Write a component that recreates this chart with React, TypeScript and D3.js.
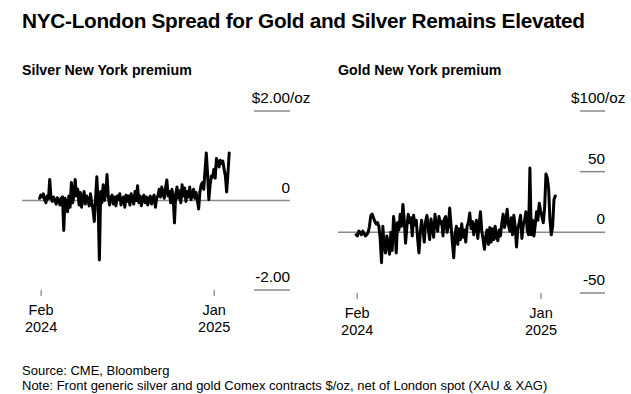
import React from 'react';
import * as d3 from 'd3';

// Silver: NY minus London spot, $/oz (evenly spaced obs)
const silverStart = '2024-01-29';
const silverEnd = '2025-01-30';
const silverValues = [
  0.05, 0.12, 0.08, 0.15, 0.02, -0.05, 0.10, 0.04, 0.47, 0.05,
  -0.02, 0.08, 0.00, -0.08, 0.06, 0.02, -0.10, 0.05, 0.08, -0.67,
  0.05, -0.05, -0.25, 0.10, -0.15, 0.40, -0.05, 0.12, 0.47, 0.10,
  0.25, -0.10, 0.18, -0.15, 0.05, 0.20, -0.08, 0.10, 0.02, -0.12,
  0.15, -0.05, -0.20, -0.47, 0.05, 0.53, -0.10, -1.33, 0.20, -0.05,
  0.35, 0.00, 0.15, 0.58, 0.10, -0.10, 0.05, 0.12, -0.08, 0.08,
  -0.12, 0.10, 0.02, 0.15, -0.10, 0.05, 0.08, -0.15, 0.12, -0.02,
  0.10, -0.10, 0.15, 0.05, -0.08, 0.20, 0.00, 0.33, -0.05, 0.10,
  -0.12, 0.05, 0.12, -0.05, 0.08, -0.10, 0.03, 0.10, -0.08, 0.05,
  0.12, -0.15, 0.05, 0.10, 0.25, 0.08, 0.30, 0.15, 0.05, 0.28,
  0.46, 0.10, 0.20, -0.05, 0.25, 0.05, -0.50, 0.15, 0.30, 0.05,
  0.22, -0.05, 0.35, 0.10, 0.28, -0.02, 0.20, 0.08, 0.30, 0.02,
  0.15, 0.25, 0.05, 0.18, 0.00, -0.19, 0.20, 0.35, 0.40, 0.25,
  0.67, 1.06, 0.60, 0.02, 0.35, 0.55, 0.52, 0.70, 0.50, 0.94,
  0.85, 0.75, 0.90, 0.83, 0.88, 0.70, 0.55, 0.19, 0.60, 1.06,
];

// Gold: NY minus London spot, $/oz
const goldStart = '2024-01-30';
const goldEnd = '2025-01-27';
const goldValues = [
  -2, -3, 1, 0, -2, 1, -1, -3, -2, 0,
  5, 14, 15, 12, 9, 7, 8, 5, -5, -25,
  5, -12, -17, -3, -10, -18, 0, -15, 13, 4,
  -17, 8, 2, 15, 5, 23, 10, -9, 5, 15,
  8, 12, -3, 14, 6, 10, -5, -17, 0, 10,
  2, -8, 9, 14, 3, -6, 11, 4, -4, 15,
  6, 1, 13, 7, 9, -3, 11, 13, 0, 5,
  20, 6, -8, -21, -2, 5, -10, 3, -6, 7,
  -4, 2, -8, 5, 8, 16, 3, 9, -2, 5,
  10, -5, 6, 17, 1, -6, -14, -3, 2, -10,
  4, -8, 3, -6, 5, -4, -7, 2, -3, 8,
  15, 4, 9, 19, 6, 1, 12, -2, 14, 4,
  -12, 3, 8, 14, -5, 6, 10, 17, 2, -2,
  53, -2, 10, -3, 6, 17, 10, 24, 18, 13,
  8, 20, 48, 45, 36, 10, -2, 5, 27, 30,
];

const silverTicks = [2, 0, -2];
const silverTickLabels = ['$2.00', '0', '-2.00'];
const goldTicks = [100, 50, 0, -50];
const goldTickLabels = ['$100', '50', '0', '-50'];
const dateTicks = ['2024-02-01', '2025-01-01'];
const dateTickLabels = [['Feb', '2024'], ['Jan', '2025']];

const parse = d3.utcParse('%Y-%m-%d');
const FONT = '"Liberation Sans", Arial, Helvetica, sans-serif';

// spread observations evenly between first and last date
function toSeries(start: string, end: string, values: number[]) {
  const t0 = parse(start)!.getTime();
  const t1 = parse(end)!.getTime();
  return values.map((v, i) => ({
    date: new Date(t0 + ((t1 - t0) * i) / (values.length - 1)),
    value: v,
  }));
}

interface PanelProps {
  title: string;
  series: { date: Date; value: number }[];
  xDomain: [string, string];
  xRange: [number, number];
  yDomain: [number, number];
  yRange: [number, number];
  ticks: number[];
  tickLabels: string[];
  labelRight: number;
  gridLeft: number;
}

const Panel: React.FC<PanelProps> = ({
  title, series, xDomain, xRange, yDomain, yRange, ticks, tickLabels, labelRight, gridLeft,
}) => {
  const x = d3.scaleUtc().domain([parse(xDomain[0])!, parse(xDomain[1])!]).range(xRange);
  const y = d3.scaleLinear().domain(yDomain).range(yRange);
  const line = d3.line<{ date: Date; value: number }>()
    .x(d => x(d.date))
    .y(d => y(d.value));
  const bottom = yRange[0];

  return (
    <g>
      <text x={xRange[0]} y={75} fontSize={14.2} fontWeight={700} fill="#000">{title}</text>

      {ticks.map((t, i) => (
        <g key={t}>
          <line
            x1={t === 0 ? xRange[0] : gridLeft}
            x2={labelRight}
            y1={y(t)}
            y2={y(t)}
            stroke="#8a8a8a"
            strokeWidth={1.5}
          />
          <text x={labelRight} y={y(t) - 8} fontSize={15.3} textAnchor="end" fill="#000">
            {tickLabels[i]}
          </text>
          {i === 0 && (
            <text x={labelRight} y={y(t) - 8} fontSize={15.3} fill="#000">/oz</text>
          )}
        </g>
      ))}

      {dateTicks.map((d, i) => {
        const xp = x(parse(d)!);
        return (
          <g key={d}>
            <line x1={xp} x2={xp} y1={bottom} y2={bottom + 6} stroke="#666" strokeWidth={1} />
            <text x={xp} y={bottom + 25} fontSize={14.5} textAnchor="middle" fill="#000">
              {dateTickLabels[i][0]}
            </text>
            <text x={xp} y={bottom + 42} fontSize={14.5} textAnchor="middle" fill="#000">
              {dateTickLabels[i][1]}
            </text>
          </g>
        );
      })}

      <path
        d={line(series) || ''}
        fill="none"
        stroke="#000"
        strokeWidth={3}
        strokeLinejoin="round"
        strokeLinecap="round"
      />
    </g>
  );
};

export default function App() {
  const silver = toSeries(silverStart, silverEnd, silverValues);
  const gold = toSeries(goldStart, goldEnd, goldValues);

  return (
    <div style={{ position: 'absolute', left: 0, top: 0 }}>
      <svg width={631} height={394} style={{ display: 'block', background: '#fff', fontFamily: FONT }}>
        <text x={22} y={28} fontSize={20.8} fontWeight={700} fill="#000" letterSpacing={-0.3}>
          NYC-London Spread for Gold and Silver Remains Elevated
        </text>

        <Panel
          title="Silver New York premium"
          series={silver}
          xDomain={['2023-12-26', '2025-03-19']}
          xRange={[22, 254]}
          yDomain={[-2, 2]}
          yRange={[290, 111]}
          ticks={silverTicks}
          tickLabels={silverTickLabels}
          labelRight={290}
          gridLeft={254}
        />
        <Panel
          title="Gold New York premium"
          series={gold}
          xDomain={['2023-12-28', '2025-03-13']}
          xRange={[338, 580]}
          yDomain={[-50, 100]}
          yRange={[293, 111]}
          ticks={goldTicks}
          tickLabels={goldTickLabels}
          labelRight={605}
          gridLeft={580}
        />

        <text x={22} y={375} fontSize={13} fill="#000">Source: CME, Bloomberg</text>
        <text x={22} y={390} fontSize={13} fill="#000">
          Note: Front generic silver and gold Comex contracts $/oz, net of London spot (XAU &amp; XAG)
        </text>
      </svg>
    </div>
  );
}
